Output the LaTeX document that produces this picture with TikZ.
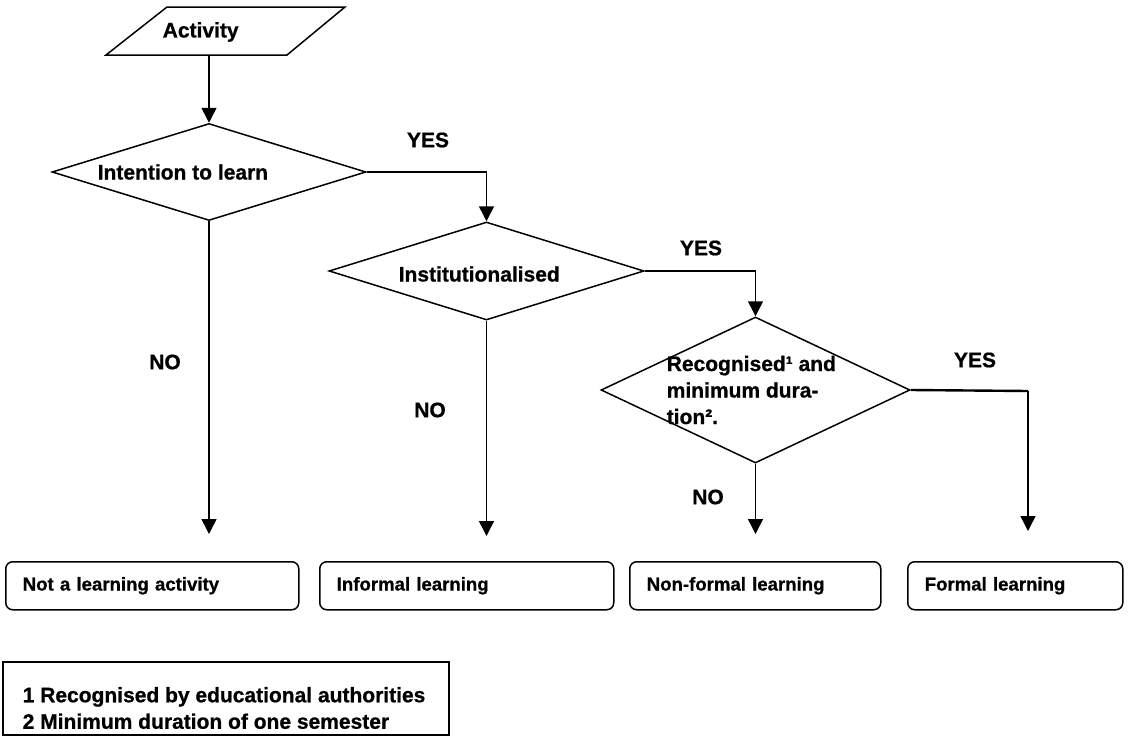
\documentclass[tikz,border=0pt]{standalone}
\usepackage{fontspec}
\setmainfont{Liberation Sans}[BoldFeatures={FakeBold=0.8}]
\usetikzlibrary{shapes.geometric,arrows.meta,calc}
\begin{document}
\begin{tikzpicture}[x=1pt,y=-1pt,
  line width=1.5pt,
  txt/.style={font=\fontsize{21}{26.5}\selectfont\bfseries, inner sep=0pt, anchor=west},
  lbl/.style={font=\fontsize{21}{26.5}\selectfont\bfseries, inner sep=0pt, anchor=center},
  dia/.style={diamond, draw, inner sep=0pt},
  outbox/.style={draw, rounded corners=7pt, minimum height=48pt, inner xsep=17pt, inner ysep=0pt,
    align=left, font=\fontsize{18.6}{23}\selectfont\bfseries, anchor=north west},
  arr/.style={-{Triangle[length=15pt,width=15pt]}},
]
\useasboundingbox (0,0) rectangle (1143,736);

% start parallelogram
\draw (106,55) -- (167,7) -- (345,7) -- (287,55) -- cycle;
\node[txt] (act) at (162,32) {Activity};
\coordinate (actb) at (209,55);

% decisions
\node[dia, minimum width=314pt, minimum height=97pt] (d1) at (209,172) {};
\node[txt] (t1) at (97,172) {Intention to learn};
\node[dia, minimum width=315pt, minimum height=98pt] (d2) at (486.5,271) {};
\node[txt] (t2) at (398,274) {Institutionalised};
\node[dia, minimum width=309pt, minimum height=146pt] (d3) at (755.5,390) {};
\node[txt, align=left] (t3) at (666,390) {Recognised¹ and\\minimum dura-\\tion².};

% outcomes
\node[outbox, text width=259pt] (b1) at (5,561) {Not a learning activity};
\node[outbox, text width=260pt] (b2) at (319,561) {Informal learning};
\node[outbox, text width=217pt] (b3) at (629,561) {Non-formal learning};
\node[outbox, text width=181pt] (b4) at (907,561) {Formal learning};

% connectors
\draw[arr] (actb) -- (d1.north);
\draw[arr] (d1.east) -| (d2.north);
\coordinate (e1) at (209,534);
\draw[arr] (d1.south) -- (e1);
\draw[arr] (d2.east) -| (d3.north);
\coordinate (e2) at (486.5,536);
\draw[arr] (d2.south) -- (e2);
\coordinate (e3) at (755.5,534);
\draw[arr] (d3.south) -- (e3);
\coordinate (e4) at (1028,531);
\coordinate (k4) at (1028,391);
\draw[line width=2.4pt] (d3.east) -- (k4);
\draw[arr] (k4) -- (e4);

% labels
\node[lbl] (y1) at (428,140) {YES};
\node[lbl] (y2) at (701,248) {YES};
\node[lbl] (y3) at (975,360) {YES};
\node[lbl] (n1) at (165,362) {NO};
\node[lbl] (n2) at (430,410) {NO};
\node[lbl] (n3) at (708,497) {NO};

% footnotes
\node[draw, line width=2pt, anchor=north west, minimum width=446pt, minimum height=73pt, inner sep=0pt] (fn) at (2,661) {};
\node[txt, align=left] (fnt) at (22,708) {1 Recognised by educational authorities\\2 Minimum duration of one semester};
\end{tikzpicture}
\end{document}
